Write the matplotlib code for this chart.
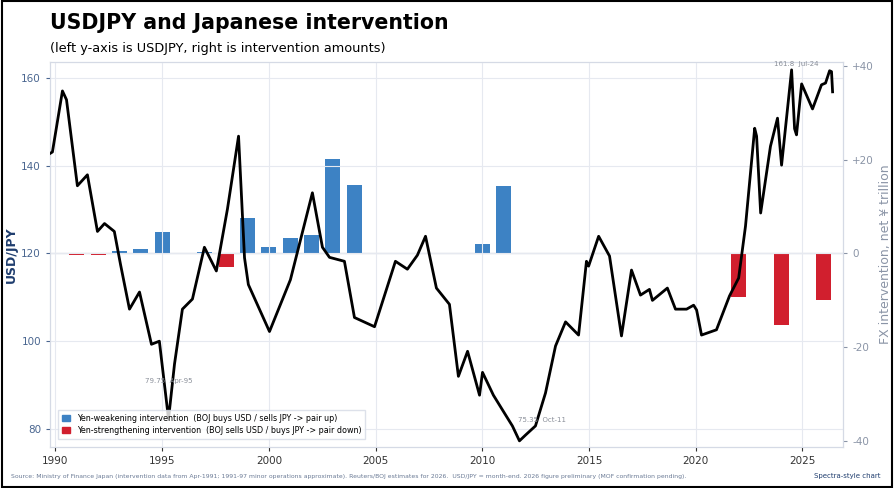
import matplotlib.pyplot as plt
from matplotlib.patches import Patch

# USD/JPY path (year fraction, rate)
years = [1989.63, 1989.86, 1990.33, 1990.52, 1991.03, 1991.50, 1991.97, 1992.30, 1992.76, 1993.05,
         1993.47, 1993.94, 1994.50, 1994.87, 1995.30, 1995.58, 1995.95, 1996.42, 1996.98, 1997.54,
         1998.06, 1998.58, 1998.86, 1999.04, 2000.03, 2001.01, 2002.04, 2002.51, 2002.84, 2003.54,
         2004.01, 2004.95, 2005.93, 2006.49, 2006.96, 2007.34, 2007.85, 2008.46, 2008.88, 2009.31,
         2009.87, 2010.01, 2010.52, 2011.04, 2011.41, 2011.74, 2012.02, 2012.49, 2012.96, 2013.43,
         2013.90, 2014.51, 2014.88, 2014.98, 2015.45, 2015.96, 2016.52, 2016.99, 2017.41, 2017.83,
         2017.97, 2018.67, 2019.05, 2019.57, 2019.90, 2020.04, 2020.27, 2020.97, 2021.58, 2022.01,
         2022.33, 2022.76, 2022.85, 2023.04, 2023.50, 2023.83, 2024.02, 2024.49, 2024.63, 2024.72,
         2024.96, 2025.47, 2025.89, 2026.08, 2026.27, 2026.36, 2026.41]
usdjpy = [142.4, 143.1, 157.0, 155.0, 135.4, 137.9, 125.0, 126.8, 125.0, 117.5,
          107.3, 111.2, 99.3, 100.0, 82.3, 94.8, 107.3, 109.6, 121.4, 116.0,
          130.1, 146.7, 119.0, 112.9, 102.2, 114.0, 133.8, 121.4, 119.1, 118.2,
          105.4, 103.3, 118.2, 116.4, 119.6, 123.9, 112.1, 108.4, 92.0, 97.7,
          87.7, 92.9, 87.7, 83.6, 80.7, 77.3, 78.6, 80.7, 88.2, 98.9,
          104.4, 101.4, 118.2, 117.1, 123.9, 119.4, 101.2, 116.2, 110.5, 111.8,
          109.3, 112.1, 107.3, 107.3, 108.2, 107.1, 101.4, 102.6, 110.3, 114.4,
          126.2, 148.5, 146.7, 129.2, 144.4, 150.8, 140.1, 161.8, 148.4, 147.0,
          158.6, 152.9, 158.4, 158.8, 161.6, 161.4, 156.8]

# yearly intervention, net yen trillion (+ = buy USD)
int_years = [1991, 1992, 1993, 1994, 1995, 1997, 1998, 1999, 2000, 2001, 2002, 2003, 2004,
             2010, 2011, 2022, 2024, 2026]
int_amt = [-0.3, -0.3, 0.5, 1.0, 4.5, 0.3, -3.0, 7.5, 1.3, 3.2, 4.0, 20.2, 14.7,
           2.1, 14.3, -9.2, -15.3, -10.0]

BLUE = "#3d82c4"
RED = "#d11f2e"
TICK = "#4a6690"
GRID = "#e6e9f0"

fig = plt.figure(figsize=(8.94, 4.88), dpi=100)
fig.patches.append(plt.Rectangle((0.002, 0.002), 0.996, 0.996, transform=fig.transFigure,
                                 fill=False, edgecolor="black", linewidth=1.5))
ax = fig.add_axes([0.056, 0.084, 0.887, 0.789])
ax2 = ax.twinx()

colors = [BLUE if v > 0 else RED for v in int_amt]
ax2.bar(int_years, int_amt, width=0.7, color=colors, zorder=2)
ax2.set_ylim(-41.3, 40.85)
ax2.set_yticks([-40, -20, 0, 20, 40])
ax2.set_yticklabels(["-40", "-20", "0", "+20", "+40"])
ax2.axhline(0, color="#d5dae5", linewidth=1, zorder=1)
ax2.set_ylabel("FX intervention, net \u00a5 trillion", color="#8a94a6", fontsize=9)
ax2.tick_params(axis="y", colors="#8a94a6", labelsize=7.5, length=3)

ax.set_zorder(ax2.get_zorder() + 1)
ax.patch.set_visible(False)
ax.plot(years, usdjpy, color="black", linewidth=2, zorder=3)
ax.set_xlim(1989.75, 2026.9)
ax.set_ylim(75.9, 163.6)
ax.set_yticks([80, 100, 120, 140, 160])
ax.set_xticks(range(1990, 2026, 5))
ax.grid(True, color=GRID, linewidth=0.8)
ax.set_ylabel("USD/JPY", color="#1f3d6e", fontsize=9, fontweight="bold")
ax.yaxis.set_label_coords(-0.04, 0.5)
ax.tick_params(axis="y", colors=TICK, labelsize=7.5, length=3)
ax.tick_params(axis="x", colors="#333333", labelsize=7.5, length=3)
for a in (ax, ax2):
    for s in a.spines.values():
        s.set_color("#d5dae5")

ax.text(1995.3, 90.5, "79.75  Apr-95", fontsize=5, color="#8a8f99", ha="center")
ax.text(2012.8, 81.5, "75.35  Oct-11", fontsize=5, color="#8a8f99", ha="center")
ax.text(2024.7, 162.5, "161.8  Jul-24", fontsize=5, color="#8a8f99", ha="center", va="bottom")

handles = [Patch(color=BLUE, label="Yen-weakening intervention  (BOJ buys USD / sells JPY -> pair up)"),
           Patch(color=RED, label="Yen-strengthening intervention  (BOJ sells USD / buys JPY -> pair down)")]
ax.legend(handles=handles, loc="lower left", fontsize=5.8, frameon=True, edgecolor="#d5dae5",
          fancybox=False, handlelength=1, handleheight=0.8, borderpad=0.5, labelspacing=0.4,
          bbox_to_anchor=(0.005, 0.01))

fig.text(0.056, 0.94, "USDJPY and Japanese intervention", fontsize=14.8, fontweight="bold")
fig.text(0.056, 0.893, "(left y-axis is USDJPY, right is intervention amounts)", fontsize=9.3)
fig.text(0.012, 0.02, "Source: Ministry of Finance Japan (intervention data from Apr-1991; 1991-97 minor operations "
         "approximate). Reuters/BOJ estimates for 2026.  USD/JPY = month-end. 2026 figure preliminary "
         "(MOF confirmation pending).", fontsize=4.4, color="#6a7a95")
fig.text(0.985, 0.02, "Spectra-style chart", fontsize=5, color="#1f3d6e", ha="right")

fig.savefig("out.png", dpi=100)
